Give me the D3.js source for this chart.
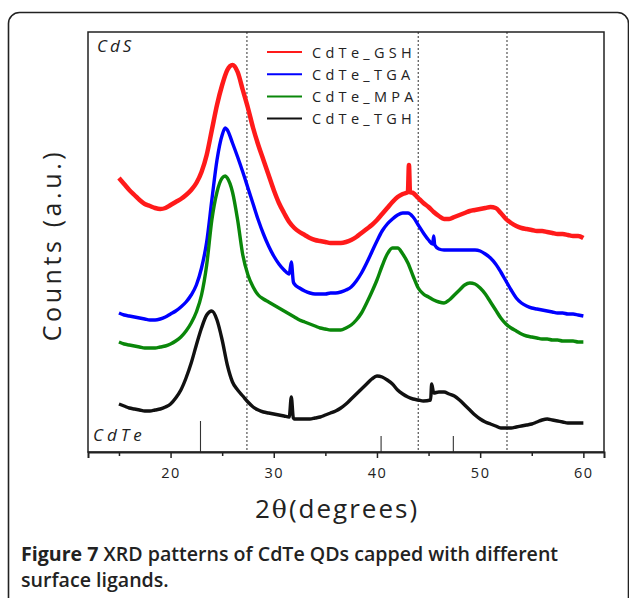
<!DOCTYPE html>
<html>
<head>
<meta charset="utf-8">
<script src="https://cdn.jsdelivr.net/npm/d3@7/dist/d3.min.js"></script>
<style>
html,body{margin:0;padding:0;background:#fff;}
svg{display:block;}
</style>
</head>
<body>
<svg id="chart" width="629" height="598"></svg>
<script>
// ---------- DATA (2θ in degrees, counts in arbitrary units) ----------
const seriesNames = ["CdTe_GSH", "CdTe_TGA", "CdTe_MPA", "CdTe_TGH"];
const seriesColors = ["#ff1a1a", "#0000ff", "#0a870a", "#111111"];

const gshData = [[15,274],[15.5,268],[16,262],[16.5,257],[17,252],[17.5,248],[18,246],[18.5,244],[19,243],[19.5,244],[20,247],[20.5,250],[21,253],[21.5,257],[22,262],[22.5,269],[23,280],[23.5,297],[24,322],[24.5,347],[25,367],[25.5,382],[26,387],[26.5,380],[27,362],[27.5,344],[28,324],[28.5,307],[29,292],[29.5,277],[30,262],[30.5,249],[31,239],[31.5,230],[32,224],[32.5,220],[33,217],[33.5,214],[34,212],[34.5,211],[35,210],[35.5,209],[36,209],[36.5,209],[37,210],[37.5,212],[38,215],[38.5,219],[39,223],[39.5,227],[40,232],[40.5,238],[41,244],[41.5,250],[42,255],[42.5,258],[43,260],[43.1,287],[43.2,260],[43.5,259],[44,254],[44.5,249],[45,245],[45.5,240],[46,236],[46.5,233],[47,233],[47.5,235],[48,237],[48.5,239],[49,241],[49.5,242],[50,243],[50.5,244],[51,245],[51.5,244],[52,239],[52.5,233],[53,229],[53.5,226],[54,224],[54.5,223],[55,222],[55.5,221],[56,221],[56.5,220],[57,219],[57.5,218],[58,218],[58.5,217],[59,216],[59.5,216],[60,214]];

const tgaData = [[15,139],[15.5,137],[16,136],[16.5,135],[17,134],[17.5,133],[18,132],[18.5,132],[19,133],[19.5,135],[20,138],[20.5,141],[21,145],[21.5,150],[22,157],[22.5,167],[23,184],[23.5,210],[24,252],[24.5,292],[25,317],[25.3,324],[25.5,322],[26,309],[26.5,295],[27,280],[27.5,264],[28,248],[28.5,232],[29,218],[29.5,206],[30,196],[30.5,188],[31,182],[31.5,178],[31.7,190],[31.9,170],[32,168],[32.5,164],[33,161],[33.5,159],[34,158],[34.5,158],[35,158],[35.5,159],[36,159],[36.5,160],[37,162],[37.5,165],[38,171],[38.5,179],[39,189],[39.5,200],[40,211],[40.5,221],[41,228],[41.5,233],[42,237],[42.5,239],[43,239],[43.5,235],[44,227],[44.5,219],[45,212],[45.4,208],[45.5,216],[45.6,207],[46,203],[46.5,202],[47,202],[47.5,202],[48,202],[48.5,202],[49,202],[49.5,202],[50,201],[50.5,198],[51,194],[51.5,188],[52,180],[52.5,171],[53,162],[53.5,154],[54,149],[54.5,146],[55,144],[55.5,143],[56,142],[56.5,141],[57,140],[57.5,139],[58,139],[58.5,138],[59,138],[59.5,137],[60,136]];

const mpaData = [[15,110],[15.5,108],[16,107],[16.5,106],[17,105],[17.5,104],[18,104],[18.5,104],[19,105],[19.5,106],[20,108],[20.5,111],[21,115],[21.5,121],[22,129],[22.5,140],[23,157],[23.5,187],[24,232],[24.5,260],[25,274],[25.3,276],[25.5,274],[26,260],[26.5,232],[27,197],[27.5,177],[28,165],[28.5,157],[29,153],[29.5,150],[30,147],[30.5,144],[31,141],[31.5,138],[32,135],[32.5,132],[33,130],[33.5,128],[34,126],[34.5,124],[35,123],[35.5,122],[36,122],[36.5,122],[37,124],[37.5,127],[38,132],[38.5,139],[39,149],[39.5,160],[40,172],[40.5,186],[41,198],[41.5,204],[42,204],[42.5,198],[43,189],[43.5,176],[44,164],[44.5,158],[45,155],[45.5,152],[46,150],[46.5,149],[47,152],[47.5,157],[48,162],[48.5,167],[49,169],[49.5,168],[50,164],[50.5,158],[51,150],[51.5,142],[52,134],[52.5,128],[53,124],[53.5,121],[54,118],[54.5,116],[55,115],[55.5,114],[56,113],[56.5,113],[57,112],[57.5,112],[58,111],[58.5,111],[59,111],[59.5,110],[60,110]];

const tghData = [[15,48],[15.5,46],[16,44],[16.5,43],[17,42],[17.5,41],[18,41],[18.5,42],[19,43],[19.5,45],[20,48],[20.5,54],[21,62],[21.5,74],[22,89],[22.5,107],[23,124],[23.5,137],[24,141],[24.5,132],[25,112],[25.5,87],[26,70],[26.5,62],[27,56],[27.5,50],[28,45],[28.5,42],[29,40],[29.5,39],[30,38],[30.5,37],[31,36],[31.5,35],[31.7,55],[31.9,34],[32,33],[32.5,33],[33,33],[33.5,33],[34,34],[34.5,35],[35,37],[35.5,39],[36,41],[36.5,44],[37,48],[37.5,53],[38,58],[38.5,63],[39,68],[39.5,73],[40,76],[40.5,75],[41,72],[41.5,68],[42,62],[42.5,58],[43,55],[43.5,53],[44,52],[44.5,51],[45.2,52],[45.3,68],[45.5,59],[46,60],[46.5,60],[47,58],[47.5,56],[48,52],[48.5,47],[49,42],[49.5,37],[50,33],[50.5,30],[51,28],[51.5,26],[52,24],[52.5,24],[53,24],[53.5,25],[54,26],[54.5,27],[55,28],[55.5,30],[56,32],[56.5,33],[57,32],[57.5,31],[58,30],[58.5,29],[59,29],[59.5,29],[60,29]];

// CdS reference positions (dashed lines) and CdTe reference sticks
const cdsLines = [27.4, 44.0, 52.6];
const cdteSticks = [22.9, 40.4, 47.4];
const cdteStickHeights = [31, 16, 16];

const majorTicks = [20, 30, 40, 50, 60];
const minorTicks = [15, 25, 35, 45, 55];

// ---------- LAYOUT ----------
const svg = d3.select("#chart");
const L = 88, R = 604, T = 32, B = 452;
const x = d3.scaleLinear().domain([12, 62]).range([L, R]);
const y = d3.scaleLinear().domain([0, 420]).range([B, T]);
const FONT = "'Open Sans', sans-serif";

// outer rounded frame
svg.append("rect")
  .attr("x", 8.5).attr("y", 12.5).attr("width", 620).attr("height", 610)
  .attr("rx", 11).attr("fill", "none").attr("stroke", "#222").attr("stroke-width", 1.6);

// dashed CdS lines
svg.append("g").selectAll("line").data(cdsLines).join("line")
  .attr("x1", d => x(d)).attr("x2", d => x(d))
  .attr("y1", T).attr("y2", B)
  .attr("stroke", "#444").attr("stroke-width", 1.1)
  .attr("stroke-dasharray", "2,2");

// CdTe sticks
svg.append("g").selectAll("line").data(cdteSticks).join("line")
  .attr("x1", d => x(d)).attr("x2", d => x(d))
  .attr("y1", B).attr("y2", (d, i) => y(cdteStickHeights[i]))
  .attr("stroke", "#333").attr("stroke-width", 1.1);

// series
const line = d3.line().x(d => x(d[0])).y(d => y(d[1])).curve(d3.curveMonotoneX);
const allData = [gshData, tgaData, mpaData, tghData];
const widths = [4.5, 3.4, 3.4, 3.4];
allData.forEach((data, i) => {
  svg.append("path").datum(data)
    .attr("d", line)
    .attr("fill", "none")
    .attr("stroke", seriesColors[i])
    .attr("stroke-width", widths[i])
    .attr("stroke-linejoin", "round");
});

// plot frame
svg.append("rect")
  .attr("x", L).attr("y", T).attr("width", R - L).attr("height", B - T)
  .attr("fill", "none").attr("stroke", "#222").attr("stroke-width", 1.5);

// x axis
const xAxis = svg.append("g").attr("transform", `translate(0,${B})`)
  .call(d3.axisBottom(x).tickValues(majorTicks).tickSize(6).tickPadding(10).tickFormat(d3.format("d")));
xAxis.select(".domain").attr("stroke", "#222").attr("stroke-width", 2);
xAxis.selectAll(".tick line").attr("stroke", "#222").attr("stroke-width", 1.5);
xAxis.selectAll(".tick text")
  .attr("font-family", FONT).attr("font-size", 14.5)
  .attr("letter-spacing", "1.5px").attr("fill", "#222");

const xMinor = svg.append("g").attr("transform", `translate(0,${B})`)
  .call(d3.axisBottom(x).tickValues(minorTicks).tickSize(4).tickFormat(""));
xMinor.select(".domain").remove();
xMinor.selectAll(".tick line").attr("stroke", "#222").attr("stroke-width", 1.5);

// x axis title
const xt = svg.append("text")
  .attr("x", 337).attr("y", 518).attr("text-anchor", "middle")
  .attr("font-family", FONT).attr("font-size", 26)
  .attr("letter-spacing", "2px").attr("fill", "#222");
xt.append("tspan").text("2");
xt.append("tspan").attr("font-family", "'DejaVu Serif', serif").attr("font-size", 25).text("θ");
xt.append("tspan").text("(degrees)");

// y axis title
svg.append("text")
  .attr("transform", "translate(61,245) rotate(-90)")
  .attr("text-anchor", "middle")
  .attr("font-family", FONT).attr("font-size", 25)
  .attr("letter-spacing", "3.6px").attr("fill", "#222")
  .text("Counts (a.u.)");

// CdS / CdTe labels
svg.append("text").attr("x", 97).attr("y", 52)
  .attr("font-family", FONT).attr("font-style", "italic")
  .attr("font-size", 17).attr("letter-spacing", "3px").attr("fill", "#222").text("CdS");
svg.append("text").attr("x", 93).attr("y", 441)
  .attr("font-family", FONT).attr("font-style", "italic")
  .attr("font-size", 17).attr("letter-spacing", "4px").attr("fill", "#222").text("CdTe");

// legend
const legend = svg.append("g");
seriesNames.forEach((name, i) => {
  const ly = 52 + i * 22.2;
  legend.append("line").attr("x1", 267).attr("x2", 302).attr("y1", ly).attr("y2", ly)
    .attr("stroke", seriesColors[i]).attr("stroke-width", 2);
  legend.append("text").attr("x", 312).attr("y", ly + 5.5)
    .attr("font-family", FONT).attr("font-size", 14.5)
    .attr("letter-spacing", "4.3px").attr("fill", "#222").text(name);
});

// caption
const cap1 = svg.append("text").attr("x", 21).attr("y", 561)
  .attr("font-family", FONT).attr("font-size", 19.6).attr("fill", "#222");
cap1.append("tspan").attr("font-weight", 700).text("Figure 7");
cap1.append("tspan").attr("font-weight", 600).text(" XRD patterns of CdTe QDs capped with different");
svg.append("text").attr("x", 21).attr("y", 587)
  .attr("font-family", FONT).attr("font-size", 19.6).attr("font-weight", 600)
  .attr("fill", "#222").text("surface ligands.");
</script>
</body>
</html>
